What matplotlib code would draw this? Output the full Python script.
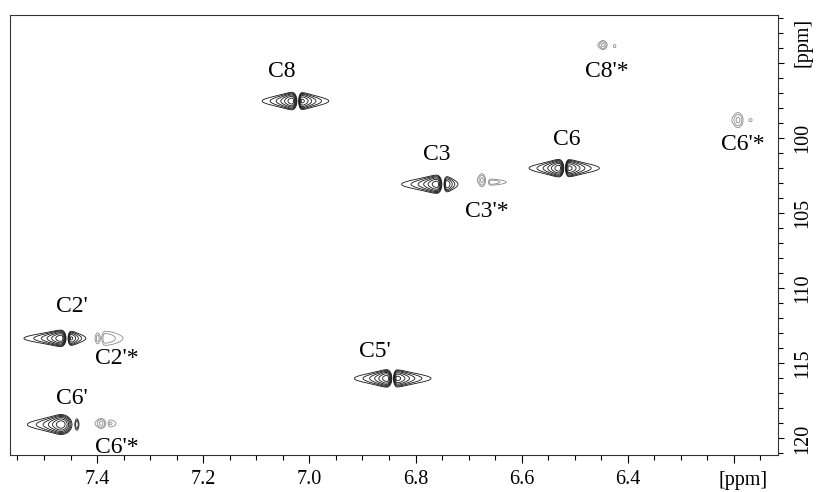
import numpy as np
import matplotlib
matplotlib.use("Agg")
import matplotlib.pyplot as plt
from matplotlib.ticker import MultipleLocator, FuncFormatter

plt.rcParams['font.family'] = ['Liberation Serif', 'DejaVu Serif']

# every cross peak = two lobes (left / right half of the 1H signal)
# 1H centre, 13C centre, height, outer 1H width, inner 1H width, 13C width, tail side (+1 = to higher ppm)
lobe_h = [7.0328, 7.0139, 6.7597, 6.7409, 6.5299, 6.5111, 6.8539, 6.8350,
          7.4678, 7.4490, 7.4678, 7.4377]
lobe_c = [97.53, 97.53, 103.07, 103.07, 102.0, 102.0, 116.0, 116.0,
          113.33, 113.33, 119.07, 119.07]
lobe_amp = [28, 22, 28, 10, 28, 24, 28, 24, 30, 12, 30, 3]
lobe_wout = [0.0108, 0.0110, 0.0128, 0.0070, 0.0108, 0.0120, 0.0118, 0.0134,
             0.0130, 0.0084, 0.0118, 0.0026]
lobe_win = [0.0036, 0.0025, 0.0036, 0.0025, 0.0036, 0.0025, 0.0036, 0.0025,
            0.0036, 0.0025, 0.0079, 0.0026]
lobe_wc = [0.225, 0.225, 0.235, 0.235, 0.225, 0.225, 0.225, 0.225,
           0.21, 0.21, 0.255, 0.255]
lobe_side = [1, -1, 1, -1, 1, -1, 1, -1, 1, -1, 1, -1]

# minor (starred) peaks, drawn in grey
minor_h = [6.6750, 6.6580, 7.3990, 7.3850, 7.3925, 7.3755, 6.4471, 6.4245, 6.1928, 6.1684]
minor_c = [102.80, 102.93, 113.33, 113.33, 119.0, 119.0, 93.80, 93.87, 98.80, 98.80]
minor_amp = [4, 3, 2.5, 3, 4, 2, 4, 1.3, 4, 1.4]
minor_wout = [0.0049, 0.0207, 0.0038, 0.0240, 0.0065, 0.0113, 0.0054, 0.0038, 0.0065, 0.0041]
minor_win = [0.0041, 0.0030, 0.0035, 0.0038, 0.0053, 0.0028, 0.0049, 0.0038, 0.0060, 0.0041]
minor_wc = [0.26, 0.135, 0.27, 0.315, 0.2, 0.2, 0.18, 0.14, 0.3, 0.12]
minor_side = [1, -1, 1, -1, 1, -1, 1, -1, 1, -1]

label_text = ["C8", "C3", "C6", "C5'", "C2'", "C6'", "C3'*", "C2'*", "C6'*", "C8'*", "C6'*"]
label_h = [7.0516, 6.7597, 6.5149, 6.8765, 7.4471, 7.4471, 6.6655, 7.3623, 7.3623, 6.4395, 6.1834]
label_c = [95.53, 101.07, 100.07, 114.2, 111.2, 117.33, 104.87, 114.67, 120.6, 95.53, 100.4]

xlim = (7.564, 6.117)
ylim = (121.1, 91.8)
levels = 1.8 ** np.arange(6)

x = np.linspace(xlim[1], xlim[0], 2400)
y = np.linspace(ylim[1], ylim[0], 1000)


def spectrum(hs, cs, amps, wouts, wins, wcs, sides):
    z = np.zeros((len(y), len(x)))
    for h, c, a, wo, wi, wc, s in zip(hs, cs, amps, wouts, wins, wcs, sides):
        d = (x - h) * s
        px = np.where(d > 0, 1 / (1 + (d / wo) ** 2), np.exp(-0.5 * (d / wi) ** 2))
        py = np.exp(-0.5 * ((y - c) / wc) ** 2)
        z += a * py[:, None] * px[None, :]
    return z


z_main = spectrum(lobe_h, lobe_c, lobe_amp, lobe_wout, lobe_win, lobe_wc, lobe_side)
z_minor = spectrum(minor_h, minor_c, minor_amp, minor_wout, minor_win, minor_wc, minor_side)

fig = plt.figure(figsize=(8.16, 4.92), dpi=100)
ax = fig.add_axes([0.01225, 0.0752, 0.9412, 0.8943])

ax.contour(x, y, z_main, levels=levels, colors='#151515', linewidths=0.6)
ax.contour(x, y, z_minor, levels=levels, colors='#8a8a8a', linewidths=0.6)

for t, h, c in zip(label_text, label_h, label_c):
    ax.text(h, c, t, fontsize=17, ha='center', va='center')

ax.set_xlim(*xlim)
ax.set_ylim(*ylim)

ax.yaxis.tick_right()
ax.xaxis.set_major_locator(MultipleLocator(0.2))
ax.xaxis.set_minor_locator(MultipleLocator(0.05))
ax.yaxis.set_major_locator(MultipleLocator(5))
ax.yaxis.set_minor_locator(MultipleLocator(1))
ax.xaxis.set_major_formatter(FuncFormatter(lambda v, p: '' if abs(v - 6.2) < 1e-6 else f'{v:.1f}'))
ax.yaxis.set_major_formatter(FuncFormatter(lambda v, p: '' if abs(v - 95) < 1e-6 else f'{v:.0f}'))

ax.tick_params(axis='x', which='major', direction='out', length=6, width=0.8, labelsize=14.5, pad=5)
ax.tick_params(axis='x', which='minor', direction='out', length=3.5, width=0.8)
ax.tick_params(axis='y', which='major', direction='out', length=4, width=0.8, labelsize=14.5,
               pad=7, labelrotation=90)
ax.tick_params(axis='y', which='minor', direction='out', length=3.5, width=0.8)
for lab in ax.get_yticklabels():
    lab.set_va('center')

for sp in ax.spines.values():
    sp.set_color('#333333')
    sp.set_linewidth(0.8)

fig.text(743 / 816, 1 - 481 / 492, '[ppm]', fontsize=14.5, ha='center', va='center')
fig.text(803 / 816, 1 - 42 / 492, '[ppm]', fontsize=14.5, ha='center', va='center', rotation=90)

fig.savefig('out.png', dpi=100)
